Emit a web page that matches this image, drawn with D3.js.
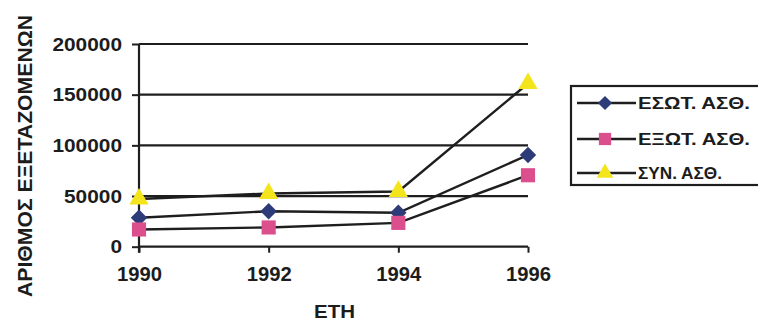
<!DOCTYPE html>
<html>
<head>
<meta charset="utf-8">
<script src="https://cdn.jsdelivr.net/npm/d3@7/dist/d3.min.js"></script>
<style>
  html, body { margin: 0; padding: 0; background: #ffffff; }
  svg { display: block; }
  text { font-family: "Liberation Sans", Arial, sans-serif; font-weight: bold; fill: #1c1c1c; }
</style>
</head>
<body>
<svg id="chart" width="758" height="322"></svg>
<script>
// Years on the horizontal axis
const years = ["1990", "1992", "1994", "1996"];
// Number of people examined per category
const esotValues = [28500, 35000, 33500, 90500];
const exotValues = [17000, 19000, 23500, 70500];
const synValues  = [47000, 52500, 54500, 161000];
// Axis ticks
const yTicks = [0, 50000, 100000, 150000, 200000];
// Series labels
const seriesNames = ["ΕΣΩΤ. ΑΣΘ.", "ΕΞΩΤ. ΑΣΘ.", "ΣΥΝ. ΑΣΘ."];
const yTitle = "ΑΡΙΘΜΟΣ ΕΞΕΤΑΖΟΜΕΝΩΝ";
const xTitle = "ΕΤΗ";

const ink = "#1e1e1e";
const colors = ["#2d3c78", "#db4f8d", "#f4e41c"];
// diamond = square turned 45 degrees
const shapes = [d3.symbolSquare, d3.symbolSquare, d3.symbolTriangle];
const shapeRot = [45, 0, 0];
const shapeSizes = [135, 200, 160];

const svg = d3.select("#chart");
const x = d3.scalePoint().domain(years).range([139, 528]);
const y = d3.scaleLinear().domain([0, 200000]).range([246.7, 44]);

// Left axis ticks and labels
const yAxis = d3.axisLeft(y).tickValues(yTicks).tickSize(7).tickPadding(10).tickFormat(d3.format("d"));
const gy = svg.append("g").attr("transform", "translate(139,0)").call(yAxis);
gy.select(".domain").remove();
gy.selectAll(".tick line").attr("stroke", ink).attr("stroke-width", 2);
gy.selectAll(".tick text")
  .attr("font-size", 19).attr("fill", "#1c1c1c")
  .attr("font-family", "Liberation Sans, Arial, sans-serif").attr("font-weight", "bold")
  .each(function(d) {
    const n = String(d).length;
    d3.select(this).attr("textLength", n * 11.6).attr("lengthAdjust", "spacingAndGlyphs");
  });

// Horizontal gridlines
svg.append("g").selectAll("line").data(yTicks).join("line")
  .attr("x1", 139).attr("x2", 528)
  .attr("y1", d => y(d)).attr("y2", d => y(d))
  .attr("stroke", ink).attr("stroke-width", 2.2);

// Vertical axis line
svg.append("line").attr("x1", 139).attr("x2", 139)
  .attr("y1", y(200000)).attr("y2", y(0) + 6)
  .attr("stroke", ink).attr("stroke-width", 2.2);

// Bottom axis with year ticks
const xAxis = d3.axisBottom(x).tickSize(6).tickPadding(14);
const gx = svg.append("g").attr("transform", `translate(0,${y(0)})`).call(xAxis);
gx.select(".domain").remove();
gx.selectAll(".tick line").attr("stroke", ink).attr("stroke-width", 2);
gx.selectAll(".tick text")
  .attr("font-size", 20).attr("fill", "#1c1c1c")
  .attr("font-family", "Liberation Sans, Arial, sans-serif").attr("font-weight", "bold")
  .attr("textLength", 45).attr("lengthAdjust", "spacingAndGlyphs");

// Axis titles
svg.append("text")
  .attr("transform", "translate(32,156) rotate(-90)")
  .attr("text-anchor", "middle")
  .attr("font-size", 20)
  .attr("textLength", 282).attr("lengthAdjust", "spacingAndGlyphs")
  .text(yTitle);

svg.append("text")
  .attr("x", 334.5).attr("y", 318)
  .attr("text-anchor", "middle")
  .attr("font-size", 19)
  .attr("textLength", 41).attr("lengthAdjust", "spacingAndGlyphs")
  .text(xTitle);

// Series lines and markers
const series = [esotValues, exotValues, synValues];
const line = d3.line().x((d, i) => x(years[i])).y(d => y(d));
series.forEach((vals, s) => {
  svg.append("path").datum(vals)
    .attr("d", line).attr("fill", "none")
    .attr("stroke", ink).attr("stroke-width", 2.4);
});
series.forEach((vals, s) => {
  svg.append("g").selectAll("path").data(vals).join("path")
    .attr("transform", (d, i) => `translate(${x(years[i])},${y(d)}) rotate(${shapeRot[s]})`)
    .attr("d", d3.symbol().type(shapes[s]).size(shapeSizes[s]))
    .attr("fill", colors[s]);
});

// Legend
const legend = svg.append("g");
legend.append("rect")
  .attr("x", 571).attr("y", 86).attr("width", 200).attr("height", 99)
  .attr("fill", "none").attr("stroke", ink).attr("stroke-width", 2.2);
const rowY = [103, 139, 173];
seriesNames.forEach((name, s) => {
  legend.append("line").attr("x1", 577).attr("x2", 636)
    .attr("y1", rowY[s]).attr("y2", rowY[s])
    .attr("stroke", ink).attr("stroke-width", 2.4);
  legend.append("path")
    .attr("transform", `translate(605,${rowY[s]}) rotate(${shapeRot[s]})`)
    .attr("d", d3.symbol().type(shapes[s]).size(shapeSizes[s] * 0.75))
    .attr("fill", colors[s]);
  legend.append("text")
    .attr("x", 638).attr("y", rowY[s]).attr("dy", "0.36em")
    .attr("font-size", 16)
    .attr("textLength", s === 2 ? 84 : 112).attr("lengthAdjust", "spacingAndGlyphs")
    .text(name);
});
</script>
</body>
</html>
